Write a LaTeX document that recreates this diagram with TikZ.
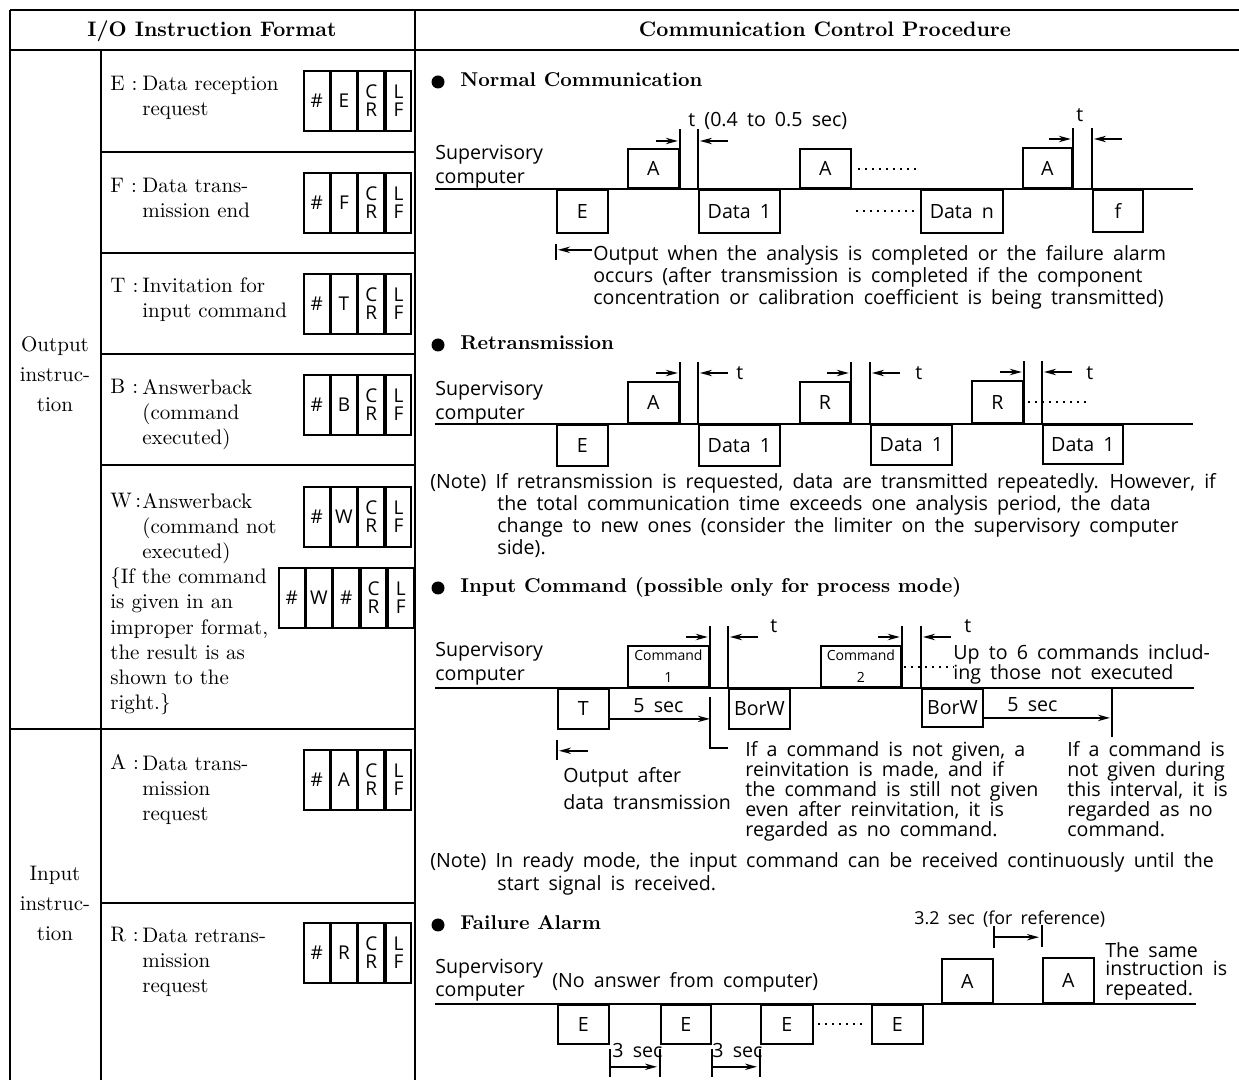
\documentclass[tikz,border=0pt]{standalone}
\usepackage{fontspec}
\setsansfont{Open Sans}[WordSpace=1.8]
\usetikzlibrary{arrows.meta,positioning}

\tikzstyle{tbl} = [line width=1pt]
\tikzstyle{wire} = [line width=0.9pt]
\tikzstyle{colhead} = [anchor=base, inner sep=0pt, font=\bfseries\fontsize{10.5}{12}\selectfont]
\tikzstyle{sectitle} = [anchor=base west, inner sep=0pt, font=\bfseries\fontsize{10}{12}\selectfont]
\tikzstyle{bullet} = [circle, fill=black, inner sep=0pt, minimum size=6.5pt]
\tikzstyle{grptxt} = [anchor=base, inner sep=0pt, align=center, font=\fontsize{10.5}{15}\selectfont]
\tikzstyle{rowtxt} = [anchor=base west, inner sep=0pt, align=left, font=\fontsize{10.5}{12.65}\selectfont]
\tikzstyle{codecell} = [draw, line width=0.9pt, minimum width=12.75pt, minimum height=30pt, inner sep=0pt, align=center, font=\sffamily\fontsize{9.5}{9}\selectfont]
\tikzstyle{txt} = [anchor=base west, inner sep=0pt, align=left, font=\sffamily\fontsize{9.8}{11}\selectfont]
\tikzstyle{suplbl} = [txt, font=\sffamily\fontsize{9.8}{12}\selectfont]
\tikzstyle{pulse} = [draw, wire, inner sep=0pt, align=center, font=\sffamily\fontsize{9.8}{11}\selectfont]
\tikzstyle{hibox} = [pulse, anchor=south west]
\tikzstyle{lobox} = [pulse, anchor=north west]
\tikzstyle{tarr} = [wire, -{Stealth[length=6pt,width=3.2pt]}]
\tikzstyle{dots} = [line width=1pt, dash pattern=on 0.9pt off 2.6pt]

% instruction format: # letter CR LF
\newcommand{\fmt}[4]{%
  \node[codecell, anchor=north west] (#1a) at (#2,#3) {\#};
  \node[codecell, right=0pt of #1a] (#1b) {#4};
  \node[codecell, right=0pt of #1b] (#1c) {C\\R};
  \node[codecell, right=0pt of #1c] (#1d) {L\\F};}

% gap t between a pulse up (#1) and the answer down (#2)
\newcommand{\tgap}[4]{%
  \draw[wire] (#1.south east) -- (#1.south east |- 0,#3);
  \draw[wire] (#2.north west) -- (#2.north west |- 0,#3);
  \draw[tarr] (#1.east |- 0,#4) ++(-24,0) -- ++(22,0);
  \draw[tarr] (#2.west |- 0,#4) ++(30,0) -- ++(-28,0);}

\begin{document}
\begin{tikzpicture}[x=0.5pt, y=-0.5pt]
    \useasboundingbox (0,0) rectangle (1239,1080);

    % table
    \draw[tbl] (10,10) -- (1239,10) (10,50) -- (1239,50)
               (10,10) -- (10,1080) (101,50) -- (101,1080) (415,10) -- (415,1080);
    \draw[tbl] (101,152) -- (415,152) (101,253) -- (415,253) (101,354) -- (415,354)
               (101,465) -- (415,465) (10,729) -- (415,729) (101,903) -- (415,903);

    \node[colhead] (hio) at (212,37) {I/O Instruction Format};
    \node[colhead] (hccp) at (825,37) {Communication Control Procedure};

    % multi-line nodes sit on the baseline of their last line
    \node[grptxt] (gout) at (55,412) {Output\\instruc-\\tion};
    \node[grptxt] (gin) at (55,941) {Input\\instruc-\\tion};

    % output instructions
    \node[rowtxt] (le) at (110,91) {E :};
    \node[rowtxt] (de) at (142,116) {Data reception\\request};
    \fmt{ce}{303}{70}{E}
    \node[rowtxt] (lf) at (110,193) {F :};
    \node[rowtxt] (df) at (142,218) {Data trans-\\mission end};
    \fmt{cf}{303}{172}{F}
    \node[rowtxt] (lt) at (110,293) {T :};
    \node[rowtxt] (dt) at (142,318) {Invitation for\\input command};
    \fmt{ct}{303}{273}{T}
    \node[rowtxt] (lb) at (110,394) {B :};
    \node[rowtxt] (db) at (142,445) {Answerback\\(command\\executed)};
    \fmt{cb}{303}{374}{B}
    \node[rowtxt] (lw) at (110,508) {W\,:};
    \node[rowtxt] (dw) at (142,559) {Answerback\\(command not\\executed)};
    \fmt{cw}{303}{486}{W}
    \node[rowtxt] (dw2) at (110,710) {\{If the command\\is given in an\\improper format,\\the result is as\\shown to the\\right.\}};
    \node[codecell, anchor=north west] (cxa) at (278,567) {\#};
    \node[codecell, right=0pt of cxa] (cxb) {W};
    \node[codecell, right=0pt of cxb] (cxc) {\#};
    \node[codecell, right=0pt of cxc] (cxd) {C\\R};
    \node[codecell, right=0pt of cxd] (cxe) {L\\F};

    % input instructions
    \node[rowtxt] (la) at (110,770) {A :};
    \node[rowtxt] (da) at (142,821) {Data trans-\\mission\\request};
    \fmt{ca}{303}{749}{A}
    \node[rowtxt] (lr) at (110,942) {R :};
    \node[rowtxt] (dr) at (142,993) {Data retrans-\\mission\\request};
    \fmt{cr}{303}{922}{R}

    % normal communication
    \node[bullet] (b1) at (438,82) {};
    \node[sectitle] (s1) at (460,87) {Normal Communication};
    \node[suplbl] (sup1) at (435,184) {Supervisory\\computer};
    \draw[wire] (435,189) -- (1193,189);
    \node[lobox, minimum width=25.5pt, minimum height=21.5pt] (ne) at (556,189) {E};
    \node[hibox, minimum width=25.5pt, minimum height=19.5pt] (na1) at (627,189) {A};
    \node[lobox, minimum width=40.5pt, minimum height=21.5pt] (nd1) at (698,189) {Data 1};
    \node[hibox, minimum width=25.5pt, minimum height=19.5pt] (na2) at (799,189) {A};
    \node[lobox, minimum width=41pt, minimum height=21.5pt] (ndn) at (920,189) {Data n};
    \node[hibox, minimum width=24.5pt, minimum height=20pt] (na3) at (1022,189) {A};
    \node[lobox, minimum width=25pt, minimum height=21pt] (nf) at (1092,189) {f};
    \draw[dots] ([xshift=3pt]na2.east) -- ++(29pt,0);
    \draw[dots] ([xshift=-3pt]ndn.west) -- ++(-29pt,0);
    \tgap{na1}{nd1}{129}{141}
    \tgap{na3}{nf}{128}{139}
    \node[txt] (nt1) at (688,127) {t (0.4 to 0.5 sec)};
    \node[txt] (nt2) at (1076,122) {t};
    \draw[wire] ([yshift=-5pt]ne.south west) -- ++(0,16);
    \draw[tarr] ([shift={(18pt,-8pt)}]ne.south west) -- ([shift={(1pt,-8pt)}]ne.south west);
    \node[txt] (nout) at (593,305) {Output when the analysis is completed or the failure alarm\\occurs (after transmission is completed if the component\\concentration or calibration coefficient is being transmitted)};

    % retransmission
    \node[bullet] (b2) at (438,345) {};
    \node[sectitle] (s2) at (460,350) {Retransmission};
    \node[suplbl] (sup2) at (435,420) {Supervisory\\computer};
    \draw[wire] (435,424) -- (1193,424);
    \node[lobox, minimum width=25.5pt, minimum height=20.5pt] (re) at (556,424) {E};
    \node[hibox, minimum width=25.5pt, minimum height=20.5pt] (ra) at (627,424) {A};
    \node[lobox, minimum width=40.5pt, minimum height=20.5pt] (rd1) at (698,424) {Data 1};
    \node[hibox, minimum width=25pt, minimum height=20.5pt] (rr1) at (799,424) {R};
    \node[lobox, minimum width=40.5pt, minimum height=20pt] (rd2) at (870,424) {Data 1};
    \node[hibox, minimum width=25.5pt, minimum height=21pt] (rr2) at (971,424) {R};
    \node[lobox, minimum width=40pt, minimum height=19.5pt] (rd3) at (1042,424) {Data 1};
    \tgap{ra}{rd1}{362}{373}
    \tgap{rr1}{rd2}{362}{373}
    \tgap{rr2}{rd3}{361}{372}
    \draw[dots] ([xshift=2pt]rr2.east) -- ++(30pt,0);
    \node[txt] (rt1) at (736,380) {t};
    \node[txt] (rt2) at (915,380) {t};
    \node[txt] (rt3) at (1086,380) {t};
    \node[txt] (rn1) at (430,489) {(Note) If retransmission is requested, data are transmitted repeatedly. However, if};
    \node[txt] (rn2) at (497,555) {the total communication time exceeds one analysis period, the data\\change to new ones (consider the limiter on the supervisory computer\\side).};

    % input command
    \node[bullet] (b3) at (438,588) {};
    \node[sectitle] (s3) at (460,593) {Input Command (possible only for process mode)};
    \node[suplbl] (sup3) at (435,681) {Supervisory\\computer};
    \draw[wire] (435,688) -- (1194,688);
    \node[lobox, minimum width=25.5pt, minimum height=20pt] (it) at (557,688) {T};
    \node[hibox, minimum width=40.5pt, minimum height=20.5pt, font=\sffamily\fontsize{7}{11}\selectfont] (ic1) at (627,688) {Command\\1};
    \node[lobox, minimum width=30.5pt, minimum height=20pt] (ib1) at (728,688) {BorW};
    \node[hibox, minimum width=40pt, minimum height=20.5pt, font=\sffamily\fontsize{7}{11}\selectfont] (ic2) at (820,688) {Command\\2};
    \node[lobox, minimum width=30.5pt, minimum height=19pt] (ib2) at (921,688) {BorW};
    \tgap{ic1}{ib1}{626}{637}
    \tgap{ic2}{ib2}{626}{637}
    \node[txt] (it1) at (770,633) {t};
    \node[txt] (it2) at (964,633) {t};
    \draw[dots] ([xshift=1pt]ic2.east) -- ++(25pt,0);
    \node[txt, font=\sffamily\fontsize{9.8}{10}\selectfont] (iup) at (953,680) {Up to 6 commands includ-\\ing those not executed};
    \draw[tarr] ([yshift=-5pt]it.east) -- ([yshift=-5pt]it.east -| ic1.east);
    \node[txt] (i5a) at (633,713) {5 sec};
    \draw[wire] (ic1.south east |- 0,697) -- (ic1.south east |- 0,748) -- (ib1.west |- 0,748);
    \coordinate (iend) at (1112,688);
    \draw[wire] (iend) -- ++(0,49);
    \draw[tarr] ([yshift=-5pt]ib2.east) -- ([yshift=-5pt, xshift=-1pt]ib2.east -| iend);
    \node[txt] (i5b) at (1007,712) {5 sec};
    \draw[wire] ([yshift=-5pt]it.south west) -- ++(0,20);
    \draw[tarr] ([shift={(15.5pt,-10.5pt)}]it.south west) -- ([shift={(1pt,-10.5pt)}]it.south west);
    \node[txt, font=\sffamily\fontsize{9.8}{13.5}\selectfont] (iout) at (563,810) {Output after\\data transmission};
    \node[txt, font=\sffamily\fontsize{9.8}{10}\selectfont] (ire) at (745,837) {If a command is not given, a\\reinvitation is made, and if\\the command is still not given\\even after reinvitation, it is\\regarded as no command.};
    \node[txt, font=\sffamily\fontsize{9.8}{10}\selectfont] (ino) at (1067,837) {If a command is\\not given during\\this interval, it is\\regarded as no\\command.};
    \node[txt] (in1) at (430,868) {(Note) In ready mode, the input command can be received continuously until the};
    \node[txt] (in2) at (497,891) {start signal is received.};

    % failure alarm
    \node[bullet] (b4) at (438,925) {};
    \node[sectitle] (s4) at (460,930) {Failure Alarm};
    \node[suplbl] (sup4) at (435,997) {Supervisory\\computer};
    \node[txt] (fno) at (552,987) {(No answer from computer)};
    \draw[wire] (435,1004) -- (1196,1004);
    \node[lobox, minimum width=25.5pt, minimum height=19.5pt] (fe1) at (557,1004) {E};
    \node[lobox, minimum width=25pt, minimum height=19.5pt] (fe2) at (660,1004) {E};
    \node[lobox, minimum width=26pt, minimum height=19.5pt] (fe3) at (760,1004) {E};
    \node[lobox, minimum width=25.5pt, minimum height=19.5pt] (fe4) at (871,1004) {E};
    \draw[dots] ([xshift=2pt]fe3.east) -- ++(23pt,0);
    \node[hibox, minimum width=25.5pt, minimum height=22pt] (fa1) at (941,1004) {A};
    \node[hibox, minimum width=25.5pt, minimum height=22.5pt] (fa2) at (1042,1004) {A};
    \draw[wire] ([yshift=16pt]fa1.north east) -- ([yshift=5pt]fa1.north east);
    \draw[wire] ([yshift=16pt]fa2.north west) -- ([yshift=5pt]fa2.north west);
    \draw[tarr] ([yshift=10.5pt]fa1.north east) -- ([yshift=10.5pt, xshift=-1.5pt]fa1.north east -| fa2.west);
    \node[txt, font=\sffamily\fontsize{8.9}{11}\selectfont] (f32) at (914,925) {3.2 sec (for reference)};
    \node[txt, font=\sffamily\fontsize{9.8}{9.5}\selectfont] (fsame) at (1105,995) {The same\\instruction is\\repeated.};
    \foreach \a/\b/\x in {fe1/fe2/612, fe2/fe3/712} {
      \draw[wire] ([yshift=-2pt]\a.south east) -- ([yshift=-16pt]\a.south east);
      \draw[wire] ([yshift=-2pt]\b.south west) -- ([yshift=-16pt]\b.south west);
      \draw[tarr] ([yshift=-11pt]\a.south east) -- ([yshift=-11pt, xshift=-1.5pt]\a.south east -| \b.west);
      \node[txt] at (\x,1058) {3 sec};
    }
\end{tikzpicture}
\end{document}
